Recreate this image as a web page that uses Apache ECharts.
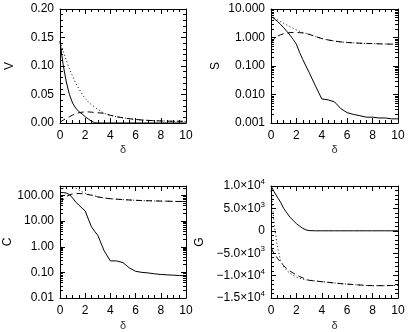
<!DOCTYPE html>
<html><head><meta charset="utf-8">
<script src="https://cdn.jsdelivr.net/npm/echarts@6/dist/echarts.min.js"></script>
<style>html,body{margin:0;padding:0;background:#fff}#c{width:409px;height:332px}</style>
</head><body><div id="c"></div>
<script>
const delta = [0,0.25,0.5,0.75,1,1.25,1.5,1.75,2,2.25,2.5,2.75,3,3.5,4,4.5,5,5.5,6,6.5,7,7.5,8,8.5,9,9.5,10];
const xTicks = [0,2,4,6,8,10];

// V panel
const vSolid  = [0.143,0.102,0.072,0.050,0.035,0.026,0.020,0.016,0.011,0.007,0.003,0.0005,0,0,0,0,0,0,0,0,0,0,0,0,0,0,0];
const vDotted = [0.143,0.126,0.110,0.095,0.082,0.070,0.060,0.051,0.043,0.037,0.032,0.028,0.024,0.017,0.0135,0.011,0.009,0.0075,0.0062,0.0053,0.0046,0.004,0.0036,0.0033,0.0031,0.003,0.003];
const vDashed = [0.0015,0.005,0.008,0.011,0.014,0.016,0.018,0.019,0.0195,0.0195,0.019,0.0185,0.018,0.017,0.0135,0.011,0.009,0.0075,0.0062,0.0053,0.0046,0.004,0.0036,0.0033,0.0031,0.003,0.003];
const vTicks = [0,0.05,0.10,0.15,0.20];

// S panel
const sSolid  = [5.5,4.6,3.7,2.9,2.2,1.65,1.2,0.85,0.58,0.3,0.17,0.1,0.06,0.02,0.007,0.0065,0.0055,0.0032,0.0023,0.002,0.0018,0.0016,0.0016,0.0015,0.0015,0.0014,0.0014];
const sDotted = [5.5,4.8,4.2,3.6,3.15,2.75,2.4,2.1,1.85,1.65,1.5,1.4,1.3,1.08,0.92,0.82,0.75,0.7,0.67,0.65,0.63,0.62,0.61,0.6,0.59,0.585,0.58];
const sDashed = [0.65,0.9,1.1,1.25,1.35,1.42,1.48,1.5,1.5,1.48,1.45,1.38,1.3,1.08,0.92,0.82,0.75,0.7,0.67,0.65,0.63,0.62,0.61,0.6,0.59,0.585,0.58];
const sTicks = [0.001,0.01,0.1,1,10];

// C panel
const cSolid  = [130,130,125,108,80,56,42,32,25,12,6,4,2.8,0.7,0.28,0.28,0.24,0.15,0.11,0.1,0.095,0.088,0.083,0.08,0.078,0.075,0.074];
const cDotted = [150,190,220,230,220,195,165,140,122,112,105,97,88,80,75,72,69,67,65,63.5,62.5,61.5,60.5,60,59,58.5,58];
const cDashed = [50,70,90,105,115,120,120,117,112,108,103,96,88,80,75,72,69,67,65,63.5,62.5,61.5,60.5,60,59,58.5,58];
const cTicks = [0.01,0.1,1,10,100];

// G panel
const gSolid  = [10000,8700,7500,6400,5000,4000,3000,2300,1600,1050,550,200,50,0,0,0,0,0,0,0,0,0,0,0,0,0,0];
const gDotted = [9000,1600,-3500,-6600,-8000,-8900,-9500,-9950,-10300,-10600,-10800,-10950,-11050,-11200,-11350,-11500,-11650,-11800,-11900,-12000,-12100,-12200,-12250,-12250,-12250,-12200,-12200];
const gDashed = [-3800,-5100,-6100,-7000,-7800,-8500,-9000,-9450,-9850,-10200,-10500,-10800,-11050,-11200,-11350,-11500,-11650,-11800,-11900,-12000,-12100,-12200,-12250,-12250,-12250,-12200,-12200];
const gTicks = [-15000,-10000,-5000,0,5000,10000];

const FONT = "'Liberation Sans', Arial, Helvetica, sans-serif";
const pts = a => delta.map((d,i)=>[d,a[i]]);
const isPow10 = v => Math.abs(Math.log10(v)-Math.round(Math.log10(v)))<1e-6;

const grids = [
  {left:60, top:9, width:126, height:114},
  {left:271, top:9, width:127, height:114},
  {left:60, top:186, width:126, height:115},
  {left:271, top:186, width:127, height:115}
];

const tickCommon = {show:true, inside:true, length:5, lineStyle:{color:'#000',width:1}};
const minorCommon = (n)=>({show:true, splitNumber:n, length:3, lineStyle:{color:'#000',width:1}});
const lineCommon = {show:true, onZero:false, lineStyle:{color:'#000',width:1}};

const xAxis = [], yAxis = [];
grids.forEach((g,gi)=>{
  const base = {gridIndex:gi, type:'value', min:xTicks[0], max:xTicks[xTicks.length-1], interval:xTicks[1]-xTicks[0],
    axisLine:lineCommon, axisTick:tickCommon, minorTick:minorCommon(4), splitLine:{show:false}};
  xAxis.push(Object.assign({}, base, {position:'bottom', name:'δ', nameLocation:'middle', nameGap:gi<2?21:22,
    nameTextStyle:{fontFamily:FONT, fontSize:11, color:'#333'},
    axisLabel:{fontFamily:FONT, fontSize:12, color:'#000', margin:7, showMinLabel:true, showMaxLabel:true}}));
  xAxis.push(Object.assign({}, base, {position:'top', axisLabel:{show:false}}));
});

const yDefs = [
  {name:'V', type:'value', min:vTicks[0], max:vTicks[vTicks.length-1], interval:vTicks[1]-vTicks[0], gap:44, minor:5,
   fmt: v=>v.toFixed(2)},
  {name:'S', type:'log', min:sTicks[0], max:sTicks[sTicks.length-1], gap:49, minor:9,
   fmt: v=>isPow10(v)?v.toFixed(3):''},
  {name:'C', type:'log', min:cTicks[0], max:235, gap:44, minor:9,
   fmt: v=>isPow10(v)?v.toFixed(2):''},
  {name:'G', type:'value', min:gTicks[0], max:gTicks[gTicks.length-1], interval:gTicks[1]-gTicks[0], gap:65, minor:5,
   fmt: v=>{ if(Math.abs(v)<1e-9) return '0'; const s=v<0?'−':''; const a=Math.abs(v);
     const e=Math.floor(Math.log10(a)+1e-9); const m=(a/Math.pow(10,e)).toFixed(1);
     return s+m+'×10{sup|'+e+'}'; }}
];
yDefs.forEach((d,gi)=>{
  const base = {gridIndex:gi, type:d.type, min:d.min, max:d.max, axisLine:lineCommon, axisTick:tickCommon,
    minorTick:minorCommon(d.minor), splitLine:{show:false}};
  if (d.interval) base.interval = d.interval;
  if (d.type==='log') base.logBase = 10;
  yAxis.push(Object.assign({}, base, {position:'left', name:d.name, nameLocation:'middle', nameGap:d.gap,
    nameTextStyle:{fontFamily:FONT, fontSize:12, color:'#000'},
    axisLabel:{fontFamily:FONT, fontSize:12, color:'#000', margin:6, showMinLabel:true, showMaxLabel:true,
      formatter:d.fmt, rich:{sup:{fontFamily:FONT, fontSize:8, color:'#000', padding:[0,0,8,0]}}}}));
  yAxis.push(Object.assign({}, base, {position:'right', axisLabel:{show:false}}));
});

const panels = [[vSolid,vDotted,vDashed],[sSolid,sDotted,sDashed],[cSolid,cDotted,cDashed],[gSolid,gDotted,gDashed]];
const styles = ['solid',[1,2.5],[6,4]];
const series = [];
panels.forEach((p,gi)=>{
  p.forEach((arr,k)=>{
    series.push({type:'line', xAxisIndex:gi*2, yAxisIndex:gi*2, data:pts(arr), showSymbol:false, symbol:'none',
      clip:true, silent:true, lineStyle:{color:'#000', width:1, type:styles[k]}});
  });
});

const chart = echarts.init(document.getElementById('c'), null, {renderer:'canvas'});
chart.setOption({animation:false, backgroundColor:'#fff', grid:grids, xAxis, yAxis, series});
</script></body></html>
